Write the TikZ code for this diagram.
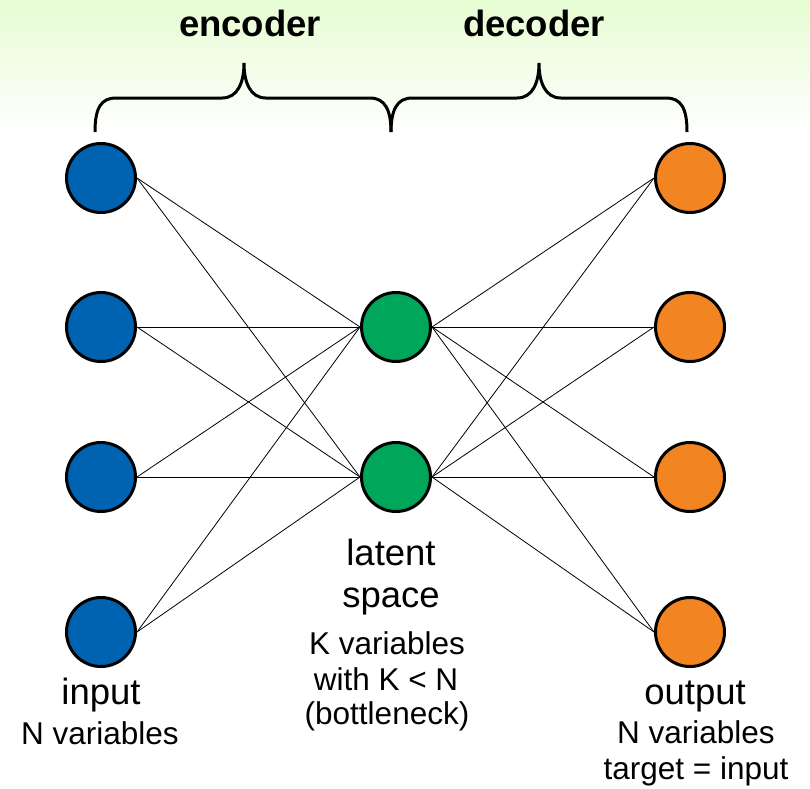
\documentclass[tikz,border=0pt]{standalone}
\usepackage{fontspec}
\setmainfont{Liberation Sans}
\definecolor{inblue}{RGB}{0,99,177}
\definecolor{latgreen}{RGB}{0,166,90}
\definecolor{outorange}{RGB}{242,133,34}
\definecolor{bandgreen}{RGB}{230,252,210}
\tikzset{
  neuron/.style={circle, draw=black, line width=3pt, minimum size=69pt, inner sep=0pt},
  inneuron/.style={neuron, fill=inblue},
  latneuron/.style={neuron, fill=latgreen},
  outneuron/.style={neuron, fill=outorange},
  link/.style={draw=black, line width=0.8pt},
  bracepath/.style={draw=black, line width=3pt},
  bigtxt/.style={anchor=base, inner sep=0pt, font=\fontsize{36.5}{40}\selectfont},
  smalltxt/.style={anchor=base, inner sep=0pt, font=\fontsize{31.5}{36}\selectfont},
  titletxt/.style={anchor=base, inner sep=0pt, font=\fontsize{36.5}{40}\selectfont\bfseries},
}
\begin{document}
\begin{tikzpicture}[x=1pt, y=-1pt]
\useasboundingbox (0,0) rectangle (810,788);
% pale green band behind the titles
\shade[top color=bandgreen, bottom color=white, draw=none] (0,0) rectangle (810,133);

% titles
\node[titletxt] (enc) at (250,36) {encoder};
\node[titletxt] (dec) at (534,36) {decoder};

% braces
\draw[bracepath] (95,132) .. controls (95,108) and (101,98) .. (116,98)
  -- (222,98) .. controls (238,98) and (244,82) .. (244,63)
  .. controls (244,82) and (250,98) .. (266,98)
  -- (370,98) .. controls (385,98) and (391,110) .. (391,132);
\draw[bracepath] (391,132) .. controls (391,110) and (397,98) .. (412,98)
  -- (517,98) .. controls (533,98) and (539,82) .. (539,63)
  .. controls (539,82) and (545,98) .. (561,98)
  -- (666,98) .. controls (681,98) and (687,108) .. (687,132);

% neurons
\node[inneuron] (i1) at (101,178) {};
\node[inneuron] (i2) at (101,327) {};
\node[inneuron] (i3) at (101,477) {};
\node[inneuron] (i4) at (101,632) {};
\node[latneuron] (l1) at (396,327) {};
\node[latneuron] (l2) at (396,477) {};
\node[outneuron] (o1) at (690,178) {};
\node[outneuron] (o2) at (690,327) {};
\node[outneuron] (o3) at (690,477) {};
\node[outneuron] (o4) at (690,632) {};

% fully connected layers
\foreach \a in {i1,i2,i3,i4}
  \foreach \b in {l1,l2}
    \draw[link] (\a.east) -- (\b.west);
\foreach \a in {l1,l2}
  \foreach \b in {o1,o2,o3,o4}
    \draw[link] (\a.east) -- (\b.west);

% labels
\node[bigtxt] (inl) at (101,704) {input};
\node[smalltxt] (inn) at (100,744) {N variables};
\node[bigtxt] (lat1) at (391,565) {latent};
\node[bigtxt] (lat2) at (391,607) {space};
\node[smalltxt] (latk1) at (387,654) {K variables};
\node[smalltxt] (latk2) at (386,690) {with K < N};
\node[smalltxt] (latk3) at (387,724) {(bottleneck)};
\node[bigtxt] (outl) at (695,704) {output};
\node[smalltxt] (outn) at (696,743) {N variables};
\node[smalltxt] (outt) at (696,779) {target = input};
\end{tikzpicture}
\end{document}
